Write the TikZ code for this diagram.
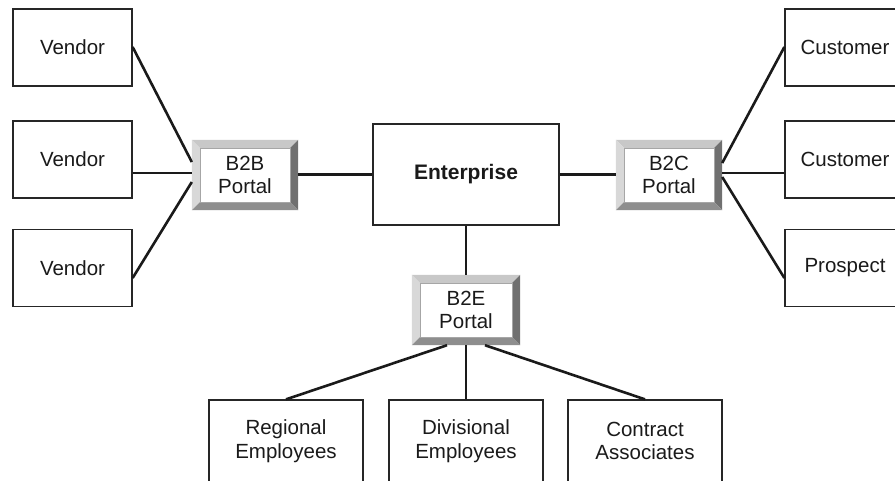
\documentclass[tikz,border=0pt]{standalone}
\usepackage{fontspec}
\setmainfont{Liberation Sans}
\usetikzlibrary{calc}
\definecolor{ink}{HTML}{1A1A1A}
\definecolor{frame}{HTML}{262626}
\definecolor{bevtop}{HTML}{C8C8C8}
\definecolor{bevleft}{HTML}{D8D8D8}
\definecolor{bevright}{HTML}{707070}
\definecolor{bevbottom}{HTML}{8E8E8E}
\tikzset{
  box/.style={draw=frame, line width=1.3pt, fill=white, align=center, text=ink,
    font=\fontsize{20.5}{23.5}\selectfont, inner sep=0pt},
  sidebox/.style={box, minimum width=119pt, minimum height=77pt},
  rightbox/.style={box, minimum width=120pt, minimum height=77pt},
  lowbox/.style={box, minimum width=154pt, minimum height=82pt},
  portal/.style={fill=white, align=center, text=ink, inner sep=0pt,
    font=\fontsize{20.5}{23.5}\selectfont, minimum width=106pt, minimum height=70pt},
  link/.style={draw=ink, line width=2.6pt}
}
% four shaded bevel strips round a portal node, then the inner white face
\newcommand\bevelframe[1]{%
  \fill[bevtop] (#1.north west) -- (#1.north east) -- ($(#1.north east)+(-8,8)$) -- ($(#1.north west)+(8,8)$) -- cycle;
  \fill[bevleft] (#1.north west) -- ($(#1.north west)+(8,8)$) -- ($(#1.south west)+(8,-8)$) -- (#1.south west) -- cycle;
  \fill[bevright] (#1.north east) -- (#1.south east) -- ($(#1.south east)+(-8,-8)$) -- ($(#1.north east)+(-8,8)$) -- cycle;
  \fill[bevbottom] (#1.south west) -- ($(#1.south west)+(8,-8)$) -- ($(#1.south east)+(-8,-8)$) -- (#1.south east) -- cycle;
  \draw[gray!70, line width=0.4pt] ($(#1.north west)+(8,8)$) rectangle ($(#1.south east)+(-8,-8)$);
}
\begin{document}
\begin{tikzpicture}[x=1pt, y=-1pt]
\useasboundingbox (0,0) rectangle (895,480);
\fill[white] (0,0) rectangle (895,480);
\clip (0,0) rectangle (895,480);

% vendors
\node[sidebox] (v1) at (72.5,47.5) {Vendor};
\node[sidebox] (v2) at (72.5,159.5) {Vendor};
\node[sidebox] (v3) at (72.5,268) {Vendor};

% customers, running off the right edge
\node[rightbox] (c1) at (845,47.5) {Customer};
\node[rightbox] (c2) at (845,159.5) {Customer};
\node[rightbox] (c3) at (845,268) {Prospect};

% centre
\node[box, minimum width=186pt, minimum height=101pt, font=\fontsize{21}{24}\selectfont\bfseries] (ent) at (466,174.5) {Enterprise};

% portals
\node[portal] (b2b) at (245,175) {B2B\\Portal};
\node[portal] (b2c) at (669,175) {B2C\\Portal};
\node[portal, minimum width=108pt] (b2e) at (466,310) {B2E\\Portal};
\bevelframe{b2b}
\bevelframe{b2c}
\bevelframe{b2e}

% employee groups, cut by the lower edge
\node[lowbox] (reg) at (286,441) {Regional\\Employees};
\node[lowbox] (div) at (466,441) {Divisional\\Employees};
\node[lowbox] (con) at (645,441) {Contract\\Associates};

% B2B fan-in
\draw[link] ($(v1.east)+(0,-0.5)$) -- ($(b2b.west)+(0,-13)$);
\draw[link] (v2.east |- {$(b2b.west)+(0,-2)$}) -- ($(b2b.west)+(0,-2)$);
\draw[link] ($(v3.east)+(0,10)$) -- ($(b2b.west)+(0,7)$);

% B2C fan-out
\draw[link] ($(b2c.east)+(0,-12)$) -- ($(c1.west)+(0,-0.5)$);
\draw[link] ($(b2c.east)+(0,-2)$) -- (c2.west |- {$(b2c.east)+(0,-2)$});
\draw[link] ($(b2c.east)+(0,2)$) -- ($(c3.west)+(0,10)$);

% enterprise links
\draw[link] (b2b.east |- ent.west) -- (ent.west);
\draw[link] (ent.east) -- (b2c.west |- ent.east);
\draw[link] (ent.south) -- (b2e.north);

% B2E fan-out
\draw[link] ($(b2e.south)+(-19,0)$) -- (reg.north);
\draw[link] (b2e.south) -- (div.north);
\draw[link] ($(b2e.south)+(19,0)$) -- (con.north);
\end{tikzpicture}
\end{document}
